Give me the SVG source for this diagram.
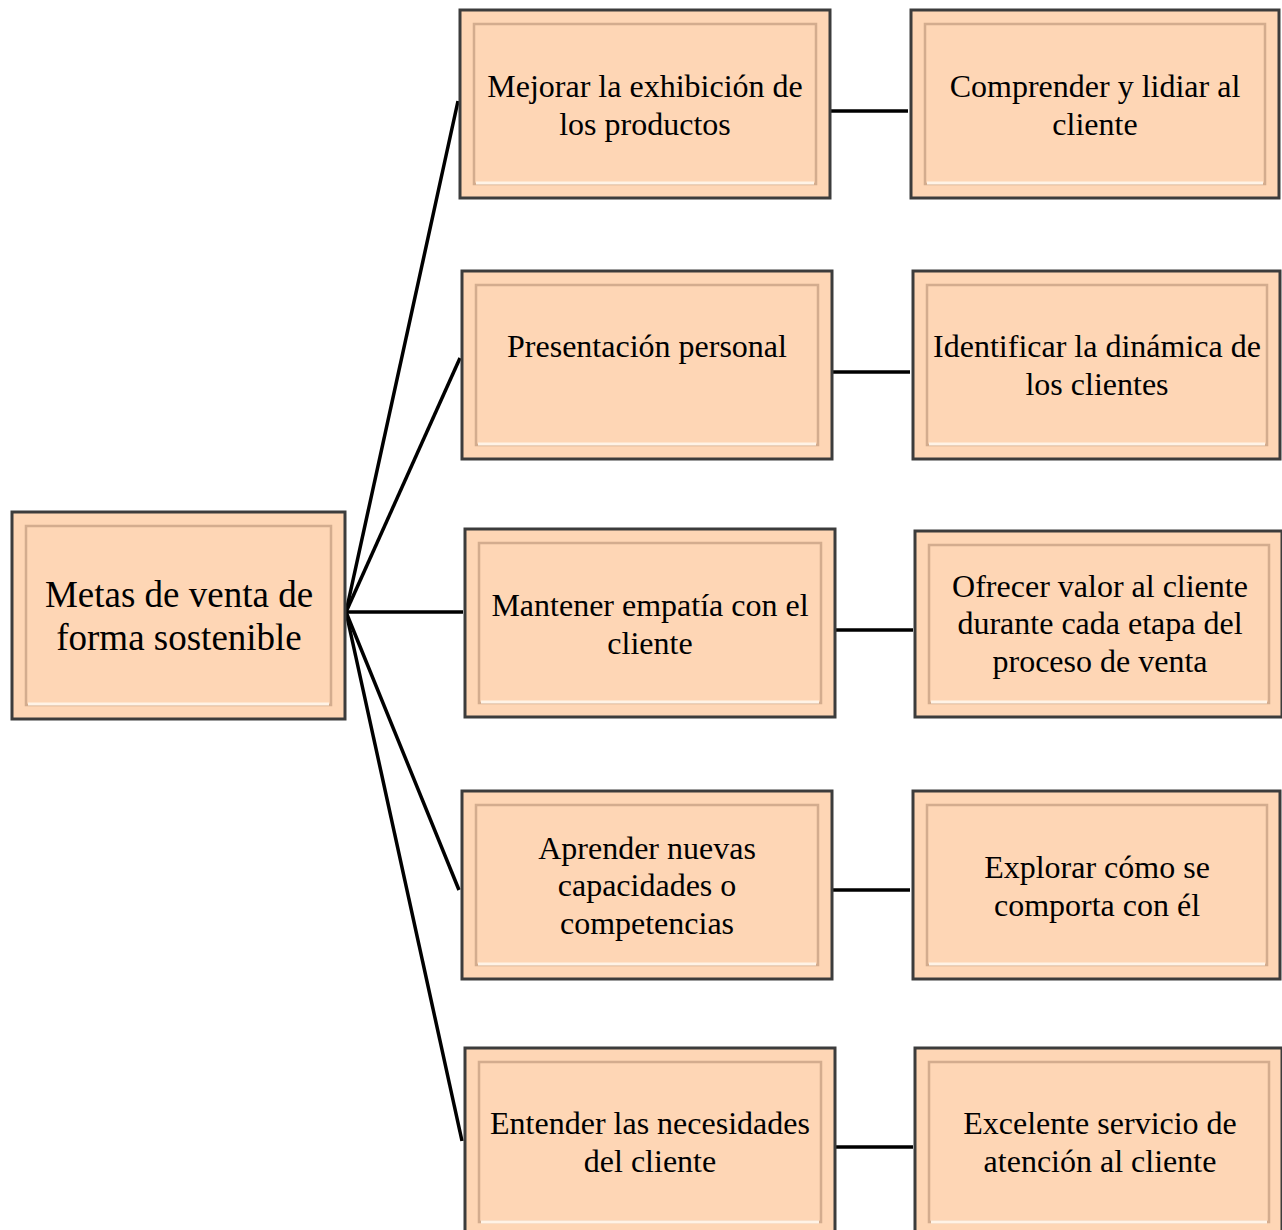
<svg xmlns="http://www.w3.org/2000/svg" width="1282" height="1230" viewBox="0 0 1282 1230">
<style>
.box{fill:#fed6b5;stroke:#3c3c3c;stroke-width:3}
.bev{fill:none;stroke:#c8a185;stroke-width:2.5;stroke-opacity:0.8}
.hl{fill:none;stroke:#fff3e6;stroke-width:3}
.t{font-family:'Liberation Serif','Tinos','DejaVu Serif',serif;font-size:32px;fill:#000;text-anchor:middle}
.th{font-family:'Liberation Serif','Tinos','DejaVu Serif',serif;font-size:37px;fill:#000;text-anchor:middle}
.c{stroke:#000;stroke-width:3.5;fill:none}
</style>
<rect width="1282" height="1230" fill="#fff"/>
<g id="connectors">
<line class="c" x1="346" y1="612" x2="458" y2="101"/>
<line class="c" x1="346" y1="612" x2="460" y2="358"/>
<line class="c" x1="346" y1="612" x2="463" y2="612"/>
<line class="c" x1="346" y1="612" x2="459" y2="890"/>
<line class="c" x1="346" y1="612" x2="462" y2="1141"/>
<line class="c" x1="831" y1="111" x2="908" y2="111"/>
<line class="c" x1="833" y1="372" x2="910" y2="372"/>
<line class="c" x1="836" y1="630" x2="913" y2="630"/>
<line class="c" x1="833" y1="890" x2="910" y2="890"/>
<line class="c" x1="836" y1="1147" x2="913" y2="1147"/>
</g>
<g id="hub">
<rect class="box" x="12" y="512" width="333" height="207"/>
<rect class="bev" x="26" y="526" width="305" height="179"/>
<line class="hl" x1="28" y1="704" x2="329" y2="704"/>
<text class="th" x="179" y="607">Metas de venta de</text>
<text class="th" x="179" y="650">forma sostenible</text>
</g>
<g id="m1">
<rect class="box" x="460" y="10" width="370" height="188"/>
<rect class="bev" x="474" y="24" width="342" height="160"/>
<line class="hl" x1="476" y1="183" x2="814" y2="183"/>
<text class="t" x="645" y="97">Mejorar la exhibición de</text>
<text class="t" x="645" y="135">los productos</text>
</g>
<g id="r1">
<rect class="box" x="911" y="10" width="368" height="188"/>
<rect class="bev" x="925" y="24" width="340" height="160"/>
<line class="hl" x1="927" y1="183" x2="1263" y2="183"/>
<text class="t" x="1095" y="97">Comprender y lidiar al</text>
<text class="t" x="1095" y="135">cliente</text>
</g>
<g id="m2">
<rect class="box" x="462" y="271" width="370" height="188"/>
<rect class="bev" x="476" y="285" width="342" height="160"/>
<line class="hl" x1="478" y1="444" x2="816" y2="444"/>
<text class="t" x="647" y="357">Presentación personal</text>
</g>
<g id="r2">
<rect class="box" x="913" y="271" width="367" height="188"/>
<rect class="bev" x="927" y="285" width="340" height="160"/>
<line class="hl" x1="929" y1="444" x2="1265" y2="444"/>
<text class="t" x="1097" y="357">Identificar la dinámica de</text>
<text class="t" x="1097" y="395">los clientes</text>
</g>
<g id="m3">
<rect class="box" x="465" y="529" width="370" height="188"/>
<rect class="bev" x="479" y="543" width="342" height="160"/>
<line class="hl" x1="481" y1="702" x2="819" y2="702"/>
<text class="t" x="650" y="616">Mantener empatía con el</text>
<text class="t" x="650" y="654">cliente</text>
</g>
<g id="r3">
<rect class="box" x="915" y="531" width="367" height="186"/>
<rect class="bev" x="929" y="545" width="340" height="158"/>
<line class="hl" x1="931" y1="702" x2="1267" y2="702"/>
<text class="t" x="1100" y="597">Ofrecer valor al cliente</text>
<text class="t" x="1100" y="634">durante cada etapa del</text>
<text class="t" x="1100" y="672">proceso de venta</text>
</g>
<g id="m4">
<rect class="box" x="462" y="791" width="370" height="188"/>
<rect class="bev" x="476" y="805" width="342" height="160"/>
<line class="hl" x1="478" y1="964" x2="816" y2="964"/>
<text class="t" x="647" y="859">Aprender nuevas</text>
<text class="t" x="647" y="896">capacidades o</text>
<text class="t" x="647" y="934">competencias</text>
</g>
<g id="r4">
<rect class="box" x="913" y="791" width="367" height="188"/>
<rect class="bev" x="927" y="805" width="340" height="160"/>
<line class="hl" x1="929" y1="964" x2="1265" y2="964"/>
<text class="t" x="1097" y="878">Explorar cómo se</text>
<text class="t" x="1097" y="916">comporta con él</text>
</g>
<g id="m5">
<rect class="box" x="465" y="1048" width="370" height="190"/>
<rect class="bev" x="479" y="1062" width="342" height="160"/>
<line class="hl" x1="481" y1="1222" x2="819" y2="1222"/>
<text class="t" x="650" y="1134">Entender las necesidades</text>
<text class="t" x="650" y="1172">del cliente</text>
</g>
<g id="r5">
<rect class="box" x="915" y="1048" width="367" height="190"/>
<rect class="bev" x="929" y="1062" width="340" height="160"/>
<line class="hl" x1="931" y1="1222" x2="1267" y2="1222"/>
<text class="t" x="1100" y="1134">Excelente servicio de</text>
<text class="t" x="1100" y="1172">atención al cliente</text>
</g>
</svg>
